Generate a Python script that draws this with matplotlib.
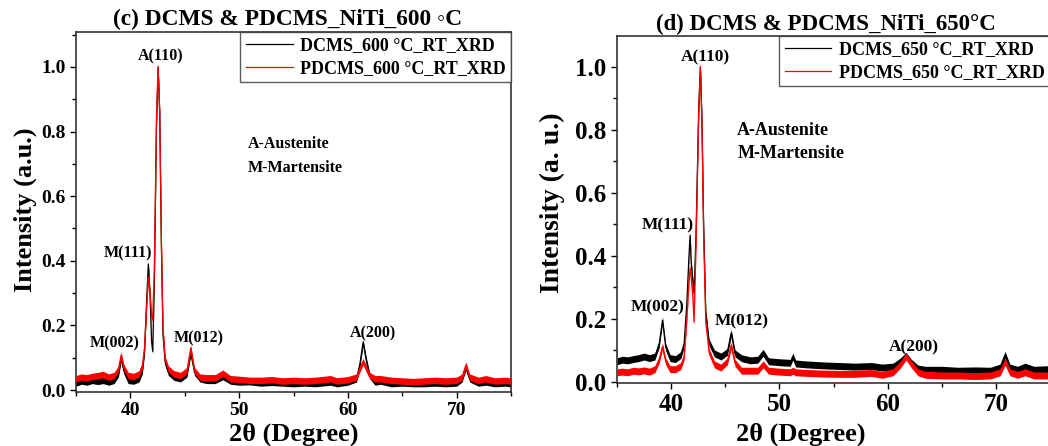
import matplotlib
matplotlib.use("Agg")
import matplotlib.pyplot as plt
from matplotlib.ticker import MultipleLocator
from matplotlib.lines import Line2D

plt.rcParams['font.family'] = ['Liberation Serif', 'DejaVu Serif']
plt.rcParams['font.weight'] = 'bold'
plt.rcParams['mathtext.default'] = 'regular'

# ---------------- data: panel (c) 600 °C ----------------
two_theta_600 = [35.0, 35.5, 36.0, 36.5, 37.0, 37.5, 38.0, 38.5, 38.9, 39.15, 39.4, 39.8,
                 40.3, 40.8, 41.1, 41.3, 41.5, 41.65, 41.8, 41.95, 42.05, 42.2, 42.4, 42.55,
                 42.7, 42.85, 43.0, 43.2, 43.5, 44.0, 44.6, 45.2, 45.55, 45.9, 46.4, 47.0,
                 47.8, 48.5, 49.2, 50.0, 51.0, 52.0, 53.0, 54.0, 55.0, 56.0, 57.0, 58.4,
                 59.0, 60.0, 60.8, 61.1, 61.4, 61.7, 62.0, 62.5, 63.0, 64.0, 65.0, 66.0,
                 67.0, 68.0, 69.0, 70.0, 70.5, 70.85, 71.2, 72.0, 72.7, 73.5, 74.5, 75.0]
dcms_600 = [0.022, 0.028, 0.025, 0.030, 0.027, 0.030, 0.025, 0.030, 0.050, 0.098, 0.060, 0.030,
            0.028, 0.035, 0.060, 0.120, 0.280, 0.390, 0.300, 0.150, 0.120, 0.320, 0.820, 1.000,
            0.850, 0.450, 0.170, 0.085, 0.055, 0.040, 0.035, 0.050, 0.115, 0.055, 0.035, 0.030,
            0.030, 0.042, 0.028, 0.025, 0.026, 0.022, 0.024, 0.022, 0.020, 0.022, 0.020, 0.025,
            0.020, 0.025, 0.035, 0.080, 0.148, 0.090, 0.045, 0.025, 0.028, 0.020, 0.022, 0.020,
            0.020, 0.022, 0.020, 0.022, 0.035, 0.070, 0.035, 0.022, 0.025, 0.020, 0.022, 0.020]
pdcms_600 = [0.035, 0.040, 0.038, 0.042, 0.045, 0.048, 0.040, 0.045, 0.065, 0.108, 0.070, 0.045,
             0.042, 0.050, 0.075, 0.130, 0.260, 0.350, 0.300, 0.230, 0.220, 0.370, 0.840, 1.000,
             0.860, 0.470, 0.190, 0.095, 0.065, 0.050, 0.045, 0.060, 0.130, 0.060, 0.040, 0.038,
             0.038, 0.052, 0.035, 0.033, 0.030, 0.030, 0.032, 0.028, 0.030, 0.028, 0.030, 0.035,
             0.028, 0.032, 0.040, 0.065, 0.088, 0.065, 0.045, 0.035, 0.035, 0.030, 0.028, 0.026,
             0.028, 0.030, 0.028, 0.030, 0.040, 0.077, 0.040, 0.030, 0.035, 0.028, 0.030, 0.028]

# ---------------- data: panel (d) 650 °C ----------------
two_theta_650 = [35.0, 35.5, 36.0, 36.5, 37.0, 37.5, 38.0, 38.5, 38.9, 39.2, 39.5, 39.9,
                 40.4, 40.9, 41.2, 41.45, 41.65, 41.75, 41.85, 42.0, 42.12, 42.3, 42.55, 42.7,
                 42.85, 43.0, 43.2, 43.5, 44.0, 44.6, 45.2, 45.55, 45.9, 46.5, 47.3, 48.0,
                 48.5, 49.0, 50.0, 51.0, 51.25, 51.5, 52.5, 54.0, 55.5, 57.0, 58.5, 59.5,
                 60.5, 61.2, 61.7, 62.2, 62.8, 63.5, 65.0, 66.5, 68.0, 69.5, 70.4, 70.85,
                 71.3, 72.0, 72.7, 73.5, 75.0]
dcms_650 = [0.065, 0.070, 0.068, 0.072, 0.075, 0.080, 0.075, 0.080, 0.120, 0.195, 0.110, 0.075,
            0.072, 0.085, 0.120, 0.250, 0.400, 0.465, 0.380, 0.320, 0.280, 0.470, 0.870, 1.000,
            0.830, 0.500, 0.220, 0.125, 0.090, 0.080, 0.095, 0.155, 0.090, 0.075, 0.068, 0.070,
            0.092, 0.065, 0.062, 0.060, 0.080, 0.058, 0.055, 0.052, 0.050, 0.048, 0.050, 0.045,
            0.048, 0.065, 0.082, 0.060, 0.042, 0.038, 0.038, 0.035, 0.036, 0.035, 0.045, 0.085,
            0.045, 0.038, 0.048, 0.038, 0.040]
pdcms_650 = [0.030, 0.032, 0.030, 0.035, 0.033, 0.036, 0.032, 0.040, 0.070, 0.112, 0.065, 0.040,
             0.040, 0.050, 0.080, 0.200, 0.320, 0.360, 0.330, 0.270, 0.190, 0.440, 0.850, 1.000,
             0.810, 0.470, 0.190, 0.095, 0.055, 0.045, 0.065, 0.115, 0.060, 0.035, 0.035, 0.035,
             0.055, 0.035, 0.032, 0.030, 0.035, 0.030, 0.028, 0.026, 0.025, 0.025, 0.028, 0.022,
             0.030, 0.055, 0.080, 0.055, 0.030, 0.022, 0.020, 0.020, 0.018, 0.020, 0.030, 0.063,
             0.030, 0.022, 0.030, 0.020, 0.020]

# noise band half-widths
noise_600 = 0.010
noise_650 = 0.011

peak_labels = ["A(110)", "M(111)", "M(002)", "M(012)", "A(200)"]
label_pos_600 = [(42.8, 1.034), (39.75, 0.424), (38.6, 0.145), (46.3, 0.160), (62.3, 0.176)]
label_pos_650 = [(43.15, 1.03), (39.7, 0.495), (38.8, 0.237), (46.55, 0.193), (62.4, 0.110)]

xticks = [40, 50, 60, 70]
yticks = [0.0, 0.2, 0.4, 0.6, 0.8, 1.0]

W, H = 1048, 446
fig = plt.figure(figsize=(W / 100, H / 100), dpi=100)


def px_axes(l, t, r, b):
    return fig.add_axes([l / W, 1 - b / H, (r - l) / W, (b - t) / H])


axL = px_axes(76, 32, 511, 392)
axR = px_axes(617, 36, 1050, 383)


def draw(ax, x, yb, yr, noise, tick_fs):
    for y, c, z in [(yb, 'black', 2), (yr, 'red', 3)]:
        lo = [v - noise for v in y]
        hi = [v + noise for v in y]
        ax.fill_between(x, lo, hi, color=c, lw=0, zorder=z)
        ax.plot(x, y, color=c, lw=0.9, zorder=z)
    ax.set_xlim(35, 75)
    ax.set_xticks(xticks)
    ax.set_yticks(yticks)
    ax.xaxis.set_minor_locator(MultipleLocator(5))
    ax.yaxis.set_minor_locator(MultipleLocator(0.1))
    ax.set_yticklabels([f"{v:.1f}" for v in yticks])
    ax.tick_params(axis='both', which='major', labelsize=tick_fs, length=4, width=1, direction='out')
    ax.tick_params(axis='both', which='minor', length=3, width=1, direction='out')
    for lab in ax.get_xticklabels() + ax.get_yticklabels():
        lab.set_fontweight('bold')
    for s in ax.spines.values():
        s.set_linewidth(1.2)
        s.set_color('#333333')


draw(axL, two_theta_600, dcms_600, pdcms_600, noise_600, 14)
axL.set_ylim(-0.006, 1.108)
draw(axR, two_theta_650, dcms_650, pdcms_650, noise_650, 18)
axR.set_ylim(-0.004, 1.098)

for (lx, ly), t in zip(label_pos_600, peak_labels):
    axL.text(lx, ly, t, ha='center', va='center', fontsize=11.5, fontweight='bold')
for (lx, ly), t in zip(label_pos_650, peak_labels):
    axR.text(lx, ly, t, ha='center', va='center', fontsize=12.5, fontweight='bold')

axL.text(50.8, 0.76, "A-Austenite", ha='left', va='center', fontsize=11.5, fontweight='bold')
axL.text(50.8, 0.687, "M-Martensite", ha='left', va='center', fontsize=11.5, fontweight='bold')
axR.text(46.1, 0.797, "A-Austenite", ha='left', va='center', fontsize=13, fontweight='bold')
axR.text(46.1, 0.725, "M-Martensite", ha='left', va='center', fontsize=13, fontweight='bold')

axL.set_ylabel("Intensity (a.u.)", fontsize=19, fontweight='bold')
axL.yaxis.set_label_coords(-0.09, 0.505)
axR.set_ylabel("Intensity (a. u.)", fontsize=20, fontweight='bold')
axR.yaxis.set_label_coords(-0.12, 0.52)

axL.set_xlabel("2θ (Degree)", fontsize=19, fontweight='bold')
axL.xaxis.set_label_coords(0.5, -0.085)
axR.set_xlabel("2θ (Degree)", fontsize=19, fontweight='bold')
axR.xaxis.set_label_coords(0.425, -0.115)

fig.text(288 / W, 1 - 19 / H, "(c) DCMS & PDCMS_NiTi_600 ◦C", ha='center', va='center',
         fontsize=16.8, fontweight='bold')
fig.text(826 / W, 1 - 24 / H, "(d) DCMS & PDCMS_NiTi_650°C", ha='center', va='center',
         fontsize=16.5, fontweight='bold')


def legend(ax, names, fs):
    handles = [Line2D([], [], color='black', lw=0.9), Line2D([], [], color='red', lw=0.9)]
    lg = ax.legend(handles, names, loc='upper right', frameon=True, fancybox=False,
                   borderaxespad=0, handlelength=2.6, handletextpad=0.4, borderpad=0.3,
                   labelspacing=0.3, prop={'weight': 'bold', 'size': fs})
    lg.get_frame().set_edgecolor('#333333')
    lg.get_frame().set_linewidth(1.0)


legend(axL, ["DCMS_600 °C_RT_XRD", "PDCMS_600 °C_RT_XRD"], 13)
legend(axR, ["DCMS_650 °C_RT_XRD", "PDCMS_650 °C_RT_XRD"], 13)

fig.savefig("out.png", dpi=100)
